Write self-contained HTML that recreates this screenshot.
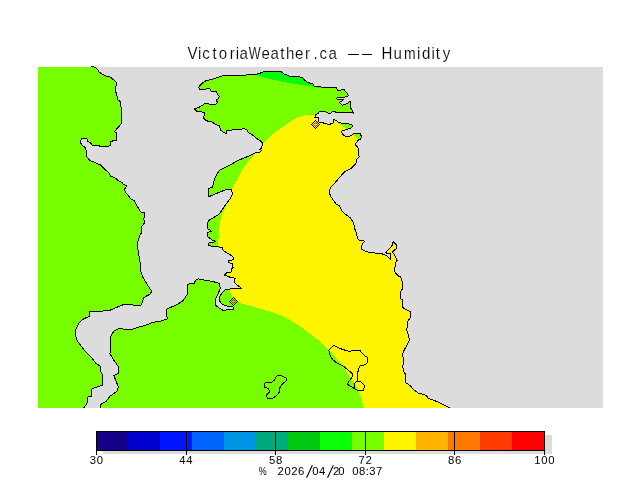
<!DOCTYPE html>
<html><head><meta charset="utf-8"><title>VictoriaWeather.ca -- Humidity</title>
<style>
html,body{margin:0;padding:0;background:#fff;}
body{width:640px;height:480px;overflow:hidden;font-family:"Liberation Sans",sans-serif;}
svg{display:block;}
text{font-family:"Liberation Sans",sans-serif;fill:#000;}
.title{font-size:16.75px;stroke:#fff;stroke-width:0.15px;paint-order:fill stroke;}
.lab{font-size:11.3px;letter-spacing:0.7px;}
.date{font-size:11.3px;}
.sl{font-size:17.5px;stroke:#fff;stroke-width:0.6px;paint-order:fill stroke;}
</style></head><body>
<svg width="640" height="480" viewBox="0 0 640 480">
<defs>
<clipPath id="map"><rect x="38" y="67" width="565" height="341"/></clipPath>
<clipPath id="land"><path d="M38.00,60.00 L91.25,66.00 L95.00,67.25 L98.10,70.00 L99.40,72.50 L106.25,76.00 L110.00,76.90 L113.75,80.00 L116.90,83.10 L115.60,86.90 L116.00,92.50 L118.10,100.00 L120.00,101.25 L120.60,105.00 L121.50,110.00 L121.90,123.10 L118.00,127.50 L114.40,131.50 L116.50,133.10 L116.50,140.00 L110.60,141.50 L111.00,145.00 L108.75,146.25 L100.00,146.50 L98.75,145.40 L91.90,145.00 L90.60,142.75 L87.50,141.00 L86.90,139.00 L81.90,138.75 L80.25,140.60 L80.60,143.10 L83.10,146.25 L85.25,147.50 L86.25,151.25 L86.90,156.90 L90.00,160.60 L95.00,162.50 L100.60,165.00 L104.40,168.75 L105.60,170.00 L109.40,173.10 L110.60,176.25 L115.00,177.75 L118.75,181.00 L121.90,182.50 L123.75,184.75 L126.50,185.25 L126.00,187.50 L124.40,189.00 L125.60,192.50 L128.10,195.00 L130.60,199.00 L134.00,200.60 L136.25,204.40 L138.75,208.75 L140.60,211.90 L144.75,212.50 L144.75,216.90 L143.75,218.10 L144.40,223.10 L141.90,226.25 L140.90,229.00 L141.75,232.00 L139.50,236.25 L137.50,242.50 L138.00,250.00 L139.25,257.50 L140.50,265.00 L140.00,268.75 L143.00,277.50 L147.50,285.00 L151.75,291.25 L150.00,294.25 L143.75,297.50 L142.50,301.25 L141.25,305.00 L132.50,305.00 L123.75,304.50 L116.25,307.50 L109.50,310.50 L100.00,311.25 L90.00,311.25 L89.50,316.25 L83.75,318.75 L78.75,323.00 L75.75,330.00 L75.75,336.25 L77.50,341.25 L81.25,346.25 L86.25,352.50 L92.50,358.75 L96.25,363.75 L100.75,366.25 L100.00,370.00 L102.50,375.00 L103.00,385.00 L97.00,387.00 L92.00,388.75 L91.25,396.25 L88.00,397.00 L87.50,402.50 L83.75,408.00 L38.00,408.00Z M100.00,408.00 L100.75,404.50 L106.25,401.25 L110.00,396.25 L117.00,391.25 L118.25,387.00 L116.25,381.25 L113.75,375.50 L118.00,373.50 L118.00,366.25 L113.75,360.00 L110.00,353.75 L110.50,345.50 L110.00,338.00 L113.75,331.25 L118.75,328.75 L131.25,329.50 L137.50,327.50 L145.00,325.50 L152.50,322.50 L160.00,321.25 L168.00,318.75 L166.25,315.00 L166.25,309.25 L175.00,305.50 L182.50,301.25 L187.00,295.00 L187.50,285.00 L188.75,284.00 L194.40,283.40 L195.30,280.60 L198.10,278.75 L205.60,280.25 L213.10,281.60 L219.10,283.40 L220.25,288.10 L217.80,294.70 L215.00,300.30 L215.00,305.00 L218.75,307.80 L223.00,310.25 L230.00,309.70 L233.75,309.10 L232.80,306.90 L226.25,305.90 L222.50,304.60 L219.70,301.25 L219.10,297.50 L221.60,293.40 L225.30,290.00 L230.00,289.00 L236.60,288.50 L241.25,288.10 L237.50,285.30 L234.10,282.10 L235.25,278.40 L229.10,276.90 L224.50,275.00 L226.60,272.75 L231.60,271.90 L231.60,268.75 L233.25,267.50 L232.25,263.75 L228.75,262.50 L228.75,260.60 L233.25,259.75 L233.50,257.25 L230.40,255.00 L226.60,252.75 L222.90,250.00 L222.25,247.25 L214.75,246.60 L208.50,245.60 L208.50,243.10 L211.60,242.50 L215.75,241.50 L212.25,240.00 L207.90,236.90 L207.90,232.50 L211.60,231.25 L207.90,228.75 L207.25,225.00 L208.50,220.60 L213.75,217.50 L218.75,214.50 L221.25,211.25 L226.25,203.75 L230.00,198.75 L232.50,193.75 L231.25,189.50 L225.00,190.00 L217.50,193.00 L208.25,197.00 L208.75,188.75 L212.50,187.00 L213.75,181.25 L216.25,175.00 L220.00,170.00 L225.00,167.50 L231.25,164.40 L237.50,160.60 L243.75,158.10 L250.00,155.60 L255.00,153.10 L260.60,151.90 L261.25,150.00 L259.40,149.40 L261.90,148.10 L262.25,142.50 L260.00,140.60 L256.25,138.10 L252.50,135.00 L248.10,132.50 L246.90,129.75 L243.75,128.50 L240.00,129.75 L232.50,130.00 L226.90,130.60 L226.25,133.75 L223.10,131.90 L220.25,130.00 L219.75,125.60 L215.60,124.75 L212.50,122.20 L207.40,121.00 L204.90,119.75 L203.00,117.25 L204.90,114.75 L204.25,112.25 L197.40,111.60 L194.25,109.10 L200.50,106.60 L204.90,103.50 L207.40,103.25 L211.75,105.00 L214.90,104.75 L218.00,102.25 L217.00,101.60 L216.75,99.50 L218.60,98.50 L219.25,96.00 L217.40,94.10 L216.10,91.60 L211.10,91.00 L209.90,88.75 L206.75,88.50 L205.50,89.50 L199.25,89.10 L198.60,87.25 L200.50,84.75 L204.25,81.60 L206.75,80.40 L213.00,79.10 L218.00,77.50 L221.75,76.00 L236.75,75.75 L250.50,74.60 L256.25,74.20 L260.20,73.10 L264.80,71.30 L280.50,71.30 L283.75,73.75 L290.00,76.25 L298.40,76.50 L302.75,77.80 L305.00,80.60 L308.75,82.90 L312.50,83.40 L314.40,86.60 L323.75,87.20 L336.00,87.40 L337.00,89.30 L338.50,90.90 L340.70,90.25 L342.25,89.30 L343.80,89.30 L345.40,91.20 L347.25,93.40 L348.50,95.60 L347.25,96.80 L342.25,97.25 L337.90,97.60 L336.30,98.50 L337.60,99.30 L343.80,99.30 L342.60,100.75 L339.40,102.25 L340.40,103.40 L342.25,105.10 L344.75,104.90 L347.25,103.40 L350.10,101.20 L350.40,107.75 L352.25,110.25 L353.50,113.10 L348.00,112.50 L342.00,112.60 L337.40,112.75 L335.50,112.00 L333.60,111.50 L332.00,112.00 L329.90,113.80 L328.60,113.50 L326.10,112.00 L324.90,111.50 L320.50,111.50 L318.60,112.25 L318.00,113.50 L316.10,114.40 L315.50,115.70 L315.50,117.40 L314.30,117.50 L318.40,117.60 L318.50,122.00 L323.00,122.50 L323.90,123.50 L326.75,123.80 L327.70,124.60 L330.20,124.60 L331.10,123.60 L333.00,123.20 L333.75,121.90 L333.75,119.40 L336.75,121.00 L339.25,122.75 L343.00,123.30 L347.60,123.50 L350.75,124.50 L352.60,125.50 L351.40,127.90 L347.00,129.50 L342.30,130.50 L341.40,132.00 L342.60,134.20 L345.10,136.30 L349.50,136.30 L352.00,134.80 L353.90,133.50 L360.10,133.50 L361.40,136.40 L360.75,138.90 L358.90,139.80 L357.00,141.70 L355.40,143.60 L355.75,145.40 L357.60,147.30 L358.60,149.50 L359.10,157.20 L356.90,159.00 L355.90,163.75 L351.25,168.40 L344.70,171.60 L340.00,176.90 L335.30,182.50 L331.00,187.20 L329.30,190.90 L330.25,195.60 L333.40,200.30 L336.25,204.00 L339.60,205.90 L341.90,210.60 L345.60,214.40 L350.00,217.50 L353.75,223.10 L354.70,228.75 L356.60,233.40 L357.60,238.75 L360.00,240.70 L363.90,240.40 L364.30,241.90 L362.30,243.50 L361.50,249.00 L364.70,251.00 L370.20,252.60 L378.90,253.40 L383.70,254.20 L387.60,256.50 L390.40,259.30 L390.40,253.80 L386.50,253.00 L385.30,252.60 L389.20,249.00 L392.00,245.50 L393.20,241.90 L396.75,245.10 L396.75,248.60 L394.80,249.80 L392.40,251.80 L394.80,255.40 L397.10,260.50 L395.20,263.30 L394.80,271.90 L397.80,275.60 L400.60,277.10 L402.50,282.20 L402.50,288.75 L400.80,291.00 L400.80,298.75 L402.00,299.50 L402.00,306.90 L405.60,309.40 L410.60,311.50 L410.60,317.50 L408.10,320.60 L407.25,327.50 L406.50,330.00 L408.10,334.40 L409.40,340.00 L406.90,345.00 L404.40,349.75 L402.50,353.75 L403.75,361.25 L402.70,366.25 L403.40,371.00 L405.30,374.00 L405.80,382.70 L410.50,385.80 L413.60,389.70 L418.30,393.10 L426.10,395.20 L428.40,398.30 L433.90,400.30 L441.70,403.75 L449.50,408.00Z"/></clipPath>
</defs>
<rect x="0" y="0" width="640" height="480" fill="#fff"/>
<rect x="38" y="67" width="565" height="341" fill="#dcdcdc"/>
<g clip-path="url(#map)">
<g clip-path="url(#land)" shape-rendering="crispEdges">
<rect x="38" y="67" width="565" height="341" fill="#77ff00"/>
<path d="M250.00,74.00 L254.70,75.25 L265.60,78.00 L281.25,81.50 L296.90,84.30 L309.40,85.90 L316.00,87.60 L337.00,88.40 L337.00,60.00 L250.00,60.00Z" fill="#08ff08"/>
<path d="M470.00,140.00 L359.75,139.70 L352.80,135.00 L348.00,129.75 L335.00,121.00 L325.00,117.50 L315.00,114.50 L310.00,114.50 L305.00,115.30 L301.25,116.25 L295.00,118.75 L290.00,122.00 L280.00,128.75 L270.00,136.25 L262.50,143.75 L255.00,153.75 L247.50,162.50 L241.25,171.25 L237.50,179.50 L233.75,185.00 L232.00,189.50 L228.75,201.25 L223.75,210.00 L221.25,216.25 L220.00,222.50 L219.25,230.00 L218.75,237.50 L217.50,246.25 L217.00,260.00 L222.00,280.00 L229.00,289.00 L231.00,294.00 L232.20,296.50 L235.00,299.50 L238.70,301.80 L241.50,303.40 L245.00,304.60 L254.40,306.90 L263.75,309.70 L273.10,312.50 L282.50,316.25 L290.00,320.00 L300.00,326.25 L310.00,333.75 L320.00,341.25 L330.00,351.25 L340.00,362.50 L348.75,375.00 L356.25,386.25 L361.25,397.50 L363.75,408.00 L364.00,420.00 L470.00,420.00Z" fill="#fff500"/>
</g>
</g>
<g fill="none" stroke="#000" stroke-width="1" stroke-linejoin="round" shape-rendering="crispEdges">
<path d="M91.25,66.00 L95.00,67.25 L98.10,70.00 L99.40,72.50 L106.25,76.00 L110.00,76.90 L113.75,80.00 L116.90,83.10 L115.60,86.90 L116.00,92.50 L118.10,100.00 L120.00,101.25 L120.60,105.00 L121.50,110.00 L121.90,123.10 L118.00,127.50 L114.40,131.50 L116.50,133.10 L116.50,140.00 L110.60,141.50 L111.00,145.00 L108.75,146.25 L100.00,146.50 L98.75,145.40 L91.90,145.00 L90.60,142.75 L87.50,141.00 L86.90,139.00 L81.90,138.75 L80.25,140.60 L80.60,143.10 L83.10,146.25 L85.25,147.50 L86.25,151.25 L86.90,156.90 L90.00,160.60 L95.00,162.50 L100.60,165.00 L104.40,168.75 L105.60,170.00 L109.40,173.10 L110.60,176.25 L115.00,177.75 L118.75,181.00 L121.90,182.50 L123.75,184.75 L126.50,185.25 L126.00,187.50 L124.40,189.00 L125.60,192.50 L128.10,195.00 L130.60,199.00 L134.00,200.60 L136.25,204.40 L138.75,208.75 L140.60,211.90 L144.75,212.50 L144.75,216.90 L143.75,218.10 L144.40,223.10 L141.90,226.25 L140.90,229.00 L141.75,232.00 L139.50,236.25 L137.50,242.50 L138.00,250.00 L139.25,257.50 L140.50,265.00 L140.00,268.75 L143.00,277.50 L147.50,285.00 L151.75,291.25 L150.00,294.25 L143.75,297.50 L142.50,301.25 L141.25,305.00 L132.50,305.00 L123.75,304.50 L116.25,307.50 L109.50,310.50 L100.00,311.25 L90.00,311.25 L89.50,316.25 L83.75,318.75 L78.75,323.00 L75.75,330.00 L75.75,336.25 L77.50,341.25 L81.25,346.25 L86.25,352.50 L92.50,358.75 L96.25,363.75 L100.75,366.25 L100.00,370.00 L102.50,375.00 L103.00,385.00 L97.00,387.00 L92.00,388.75 L91.25,396.25 L88.00,397.00 L87.50,402.50 L83.75,408.00"/>
<path d="M100.00,408.00 L100.75,404.50 L106.25,401.25 L110.00,396.25 L117.00,391.25 L118.25,387.00 L116.25,381.25 L113.75,375.50 L118.00,373.50 L118.00,366.25 L113.75,360.00 L110.00,353.75 L110.50,345.50 L110.00,338.00 L113.75,331.25 L118.75,328.75 L131.25,329.50 L137.50,327.50 L145.00,325.50 L152.50,322.50 L160.00,321.25 L168.00,318.75 L166.25,315.00 L166.25,309.25 L175.00,305.50 L182.50,301.25 L187.00,295.00 L187.50,285.00 L188.75,284.00 L194.40,283.40 L195.30,280.60 L198.10,278.75 L205.60,280.25 L213.10,281.60 L219.10,283.40 L220.25,288.10 L217.80,294.70 L215.00,300.30 L215.00,305.00 L218.75,307.80 L223.00,310.25 L230.00,309.70 L233.75,309.10 L232.80,306.90 L226.25,305.90 L222.50,304.60 L219.70,301.25 L219.10,297.50 L221.60,293.40 L225.30,290.00 L230.00,289.00 L236.60,288.50 L241.25,288.10 L237.50,285.30 L234.10,282.10 L235.25,278.40 L229.10,276.90 L224.50,275.00 L226.60,272.75 L231.60,271.90 L231.60,268.75 L233.25,267.50 L232.25,263.75 L228.75,262.50 L228.75,260.60 L233.25,259.75 L233.50,257.25 L230.40,255.00 L226.60,252.75 L222.90,250.00 L222.25,247.25 L214.75,246.60 L208.50,245.60 L208.50,243.10 L211.60,242.50 L215.75,241.50 L212.25,240.00 L207.90,236.90 L207.90,232.50 L211.60,231.25 L207.90,228.75 L207.25,225.00 L208.50,220.60 L213.75,217.50 L218.75,214.50 L221.25,211.25 L226.25,203.75 L230.00,198.75 L232.50,193.75 L231.25,189.50 L225.00,190.00 L217.50,193.00 L208.25,197.00 L208.75,188.75 L212.50,187.00 L213.75,181.25 L216.25,175.00 L220.00,170.00 L225.00,167.50 L231.25,164.40 L237.50,160.60 L243.75,158.10 L250.00,155.60 L255.00,153.10 L260.60,151.90 L261.25,150.00 L259.40,149.40 L261.90,148.10 L262.25,142.50 L260.00,140.60 L256.25,138.10 L252.50,135.00 L248.10,132.50 L246.90,129.75 L243.75,128.50 L240.00,129.75 L232.50,130.00 L226.90,130.60 L226.25,133.75 L223.10,131.90 L220.25,130.00 L219.75,125.60 L215.60,124.75 L212.50,122.20 L207.40,121.00 L204.90,119.75 L203.00,117.25 L204.90,114.75 L204.25,112.25 L197.40,111.60 L194.25,109.10 L200.50,106.60 L204.90,103.50 L207.40,103.25 L211.75,105.00 L214.90,104.75 L218.00,102.25 L217.00,101.60 L216.75,99.50 L218.60,98.50 L219.25,96.00 L217.40,94.10 L216.10,91.60 L211.10,91.00 L209.90,88.75 L206.75,88.50 L205.50,89.50 L199.25,89.10 L198.60,87.25 L200.50,84.75 L204.25,81.60 L206.75,80.40 L213.00,79.10 L218.00,77.50 L221.75,76.00 L236.75,75.75 L250.50,74.60 L256.25,74.20 L260.20,73.10 L264.80,71.30 L280.50,71.30 L283.75,73.75 L290.00,76.25 L298.40,76.50 L302.75,77.80 L305.00,80.60 L308.75,82.90 L312.50,83.40 L314.40,86.60 L323.75,87.20 L336.00,87.40 L337.00,89.30 L338.50,90.90 L340.70,90.25 L342.25,89.30 L343.80,89.30 L345.40,91.20 L347.25,93.40 L348.50,95.60 L347.25,96.80 L342.25,97.25 L337.90,97.60 L336.30,98.50 L337.60,99.30 L343.80,99.30 L342.60,100.75 L339.40,102.25 L340.40,103.40 L342.25,105.10 L344.75,104.90 L347.25,103.40 L350.10,101.20 L350.40,107.75 L352.25,110.25 L353.50,113.10 L348.00,112.50 L342.00,112.60 L337.40,112.75 L335.50,112.00 L333.60,111.50 L332.00,112.00 L329.90,113.80 L328.60,113.50 L326.10,112.00 L324.90,111.50 L320.50,111.50 L318.60,112.25 L318.00,113.50 L316.10,114.40 L315.50,115.70 L315.50,117.40 L314.30,117.50 L318.40,117.60 L318.50,122.00 L323.00,122.50 L323.90,123.50 L326.75,123.80 L327.70,124.60 L330.20,124.60 L331.10,123.60 L333.00,123.20 L333.75,121.90 L333.75,119.40 L336.75,121.00 L339.25,122.75 L343.00,123.30 L347.60,123.50 L350.75,124.50 L352.60,125.50 L351.40,127.90 L347.00,129.50 L342.30,130.50 L341.40,132.00 L342.60,134.20 L345.10,136.30 L349.50,136.30 L352.00,134.80 L353.90,133.50 L360.10,133.50 L361.40,136.40 L360.75,138.90 L358.90,139.80 L357.00,141.70 L355.40,143.60 L355.75,145.40 L357.60,147.30 L358.60,149.50 L359.10,157.20 L356.90,159.00 L355.90,163.75 L351.25,168.40 L344.70,171.60 L340.00,176.90 L335.30,182.50 L331.00,187.20 L329.30,190.90 L330.25,195.60 L333.40,200.30 L336.25,204.00 L339.60,205.90 L341.90,210.60 L345.60,214.40 L350.00,217.50 L353.75,223.10 L354.70,228.75 L356.60,233.40 L357.60,238.75 L360.00,240.70 L363.90,240.40 L364.30,241.90 L362.30,243.50 L361.50,249.00 L364.70,251.00 L370.20,252.60 L378.90,253.40 L383.70,254.20 L387.60,256.50 L390.40,259.30 L390.40,253.80 L386.50,253.00 L385.30,252.60 L389.20,249.00 L392.00,245.50 L393.20,241.90 L396.75,245.10 L396.75,248.60 L394.80,249.80 L392.40,251.80 L394.80,255.40 L397.10,260.50 L395.20,263.30 L394.80,271.90 L397.80,275.60 L400.60,277.10 L402.50,282.20 L402.50,288.75 L400.80,291.00 L400.80,298.75 L402.00,299.50 L402.00,306.90 L405.60,309.40 L410.60,311.50 L410.60,317.50 L408.10,320.60 L407.25,327.50 L406.50,330.00 L408.10,334.40 L409.40,340.00 L406.90,345.00 L404.40,349.75 L402.50,353.75 L403.75,361.25 L402.70,366.25 L403.40,371.00 L405.30,374.00 L405.80,382.70 L410.50,385.80 L413.60,389.70 L418.30,393.10 L426.10,395.20 L428.40,398.30 L433.90,400.30 L441.70,403.75 L449.50,408.00"/>
<path d="M333.75,345.25 L328.75,350.25 L330.00,355.00 L332.50,359.40 L336.90,363.10 L342.50,365.60 L347.50,369.40 L352.50,374.00 L351.90,377.50 L348.10,382.25 L347.50,384.40 L352.50,387.50 L358.75,391.00 L363.10,390.60 L364.75,386.25 L362.50,383.10 L359.40,381.25 L357.50,381.25 L357.75,372.50 L359.40,366.25 L365.00,364.75 L367.50,362.50 L367.50,357.50 L363.75,355.00 L360.00,350.60 L356.90,350.25 L348.75,351.25 L342.50,349.40 L335.00,346.25Z"/>
<path d="M357.50,381.25 L355.50,382.50 L354.00,384.60 L354.30,388.30"/>
<path d="M278.10,375.00 L280.60,375.40 L286.90,378.50 L286.25,381.00 L282.50,383.75 L280.00,387.50 L279.75,391.25 L277.50,394.75 L273.10,398.10 L267.50,398.50 L266.25,395.60 L269.40,391.90 L268.75,388.75 L264.75,387.25 L264.40,383.75 L266.25,382.25 L271.90,382.25 L274.40,380.00 L276.25,376.50Z"/>
</g>
<g shape-rendering="crispEdges">
<path d="M311,124h1v1h-1zM312,123h1v1h-1zM312,125h1v1h-1zM313,122h1v1h-1zM313,126h1v1h-1zM314,121h1v1h-1zM314,127h1v1h-1zM315,120h1v1h-1zM315,128h1v1h-1zM316,121h1v1h-1zM316,127h1v1h-1zM317,122h1v1h-1zM317,126h1v1h-1zM318,123h1v1h-1zM318,125h1v1h-1zM319,124h1v1h-1z" fill="#000"/><path d="M313,124h1v1h-1zM314,123h1v1h-1zM314,125h1v1h-1zM315,122h1v1h-1zM315,126h1v1h-1zM316,123h1v1h-1zM316,125h1v1h-1zM317,124h1v1h-1z" fill="#ff1400"/>
<path d="M229,301h1v1h-1zM230,300h1v1h-1zM230,302h1v1h-1zM231,299h1v1h-1zM231,303h1v1h-1zM232,298h1v1h-1zM232,304h1v1h-1zM233,297h1v1h-1zM233,305h1v1h-1zM234,298h1v1h-1zM234,304h1v1h-1zM235,299h1v1h-1zM235,303h1v1h-1zM236,300h1v1h-1zM236,302h1v1h-1zM237,301h1v1h-1z" fill="#000"/><path d="M231,301h1v1h-1zM232,300h1v1h-1zM232,302h1v1h-1zM233,299h1v1h-1zM233,303h1v1h-1zM234,300h1v1h-1zM234,302h1v1h-1zM235,301h1v1h-1z" fill="#ff1400"/>
</g>
<g style="filter:grayscale(1)"><g transform="scale(0.9,1)"><text class="title" text-anchor="middle" y="59"><tspan x="213.89 221.78 228.89 238.44 247.67 258.11 263.89 270.83">Victoria</tspan><tspan x="283.00" textLength="13.22" lengthAdjust="spacingAndGlyphs">W</tspan><tspan x="295.22 305.33 313.67 322.33 332.44 341.67 350.67 359.11 369.56">eather.ca</tspan></text></g><path d="M348,54.5 H358.5 M361.5,54.5 H372" stroke="#000" stroke-width="1" fill="none" shape-rendering="crispEdges"/><g transform="scale(0.9,1)"><text class="title" text-anchor="middle" y="59"><tspan x="429.89 442.00">Hu</tspan><tspan x="455.28" textLength="12.89" lengthAdjust="spacingAndGlyphs">m</tspan><tspan x="465.28 473.44 481.33 486.56 496.11">idity</tspan></text></g></g>
<rect x="103" y="435" width="449" height="19" fill="#dcdcdc"/>
<g shape-rendering="crispEdges"><rect x="96" y="431" width="32" height="19" fill="#140086"/><rect x="128" y="431" width="32" height="19" fill="#0000cd"/><rect x="160" y="431" width="32" height="19" fill="#0014ff"/><rect x="192" y="431" width="32" height="19" fill="#0064ff"/><rect x="224" y="431" width="32" height="19" fill="#0096e6"/><rect x="256" y="431" width="32" height="19" fill="#00aa7d"/><rect x="288" y="431" width="32" height="19" fill="#00c810"/><rect x="320" y="431" width="32" height="19" fill="#08ff08"/><rect x="352" y="431" width="32" height="19" fill="#77ff00"/><rect x="384" y="431" width="32" height="19" fill="#fff500"/><rect x="416" y="431" width="32" height="19" fill="#ffb400"/><rect x="448" y="431" width="32" height="19" fill="#ff7800"/><rect x="480" y="431" width="32" height="19" fill="#ff3c00"/><rect x="512" y="431" width="32" height="19" fill="#ff0000"/></g>
<rect x="96.5" y="431.5" width="448" height="19" fill="none" stroke="#000" stroke-width="1" shape-rendering="crispEdges"/>
<path d="M96.5,431 V455" stroke="#000" stroke-width="1" fill="none" shape-rendering="crispEdges"/><path d="M186.5,431 V455" stroke="#000" stroke-width="1" fill="none" shape-rendering="crispEdges"/><path d="M275.5,431 V455" stroke="#000" stroke-width="1" fill="none" shape-rendering="crispEdges"/><path d="M365.5,431 V455" stroke="#000" stroke-width="1" fill="none" shape-rendering="crispEdges"/><path d="M454.5,431 V455" stroke="#000" stroke-width="1" fill="none" shape-rendering="crispEdges"/><path d="M544.5,431 V455" stroke="#000" stroke-width="1" fill="none" shape-rendering="crispEdges"/>
<g style="filter:grayscale(1)"><text x="96.7" y="464" text-anchor="middle" class="lab">30</text><text x="186.3" y="464" text-anchor="middle" class="lab">44</text><text x="275.9" y="464" text-anchor="middle" class="lab">58</text><text x="365.5" y="464" text-anchor="middle" class="lab">72</text><text x="455.1" y="464" text-anchor="middle" class="lab">86</text><text x="544.7" y="464" text-anchor="middle" class="lab">100</text>
<text class="date" text-anchor="middle" y="475"><tspan x="264.3" textLength="7.9" lengthAdjust="spacingAndGlyphs">%</tspan> <tspan x="280.6 287.6 294.4 301.1">2026</tspan><tspan class="sl" x="309.4" y="478.2" textLength="8.4" lengthAdjust="spacingAndGlyphs">/</tspan><tspan y="475" x="315.3 322.1">04</tspan><tspan class="sl" x="330.5" y="478.2" textLength="8.4" lengthAdjust="spacingAndGlyphs">/</tspan><tspan y="475" x="336.2 343">20</tspan> <tspan x="355.3 362.1 367.3 372.5 379.2">08:37</tspan></text></g>
</svg>
</body></html>
